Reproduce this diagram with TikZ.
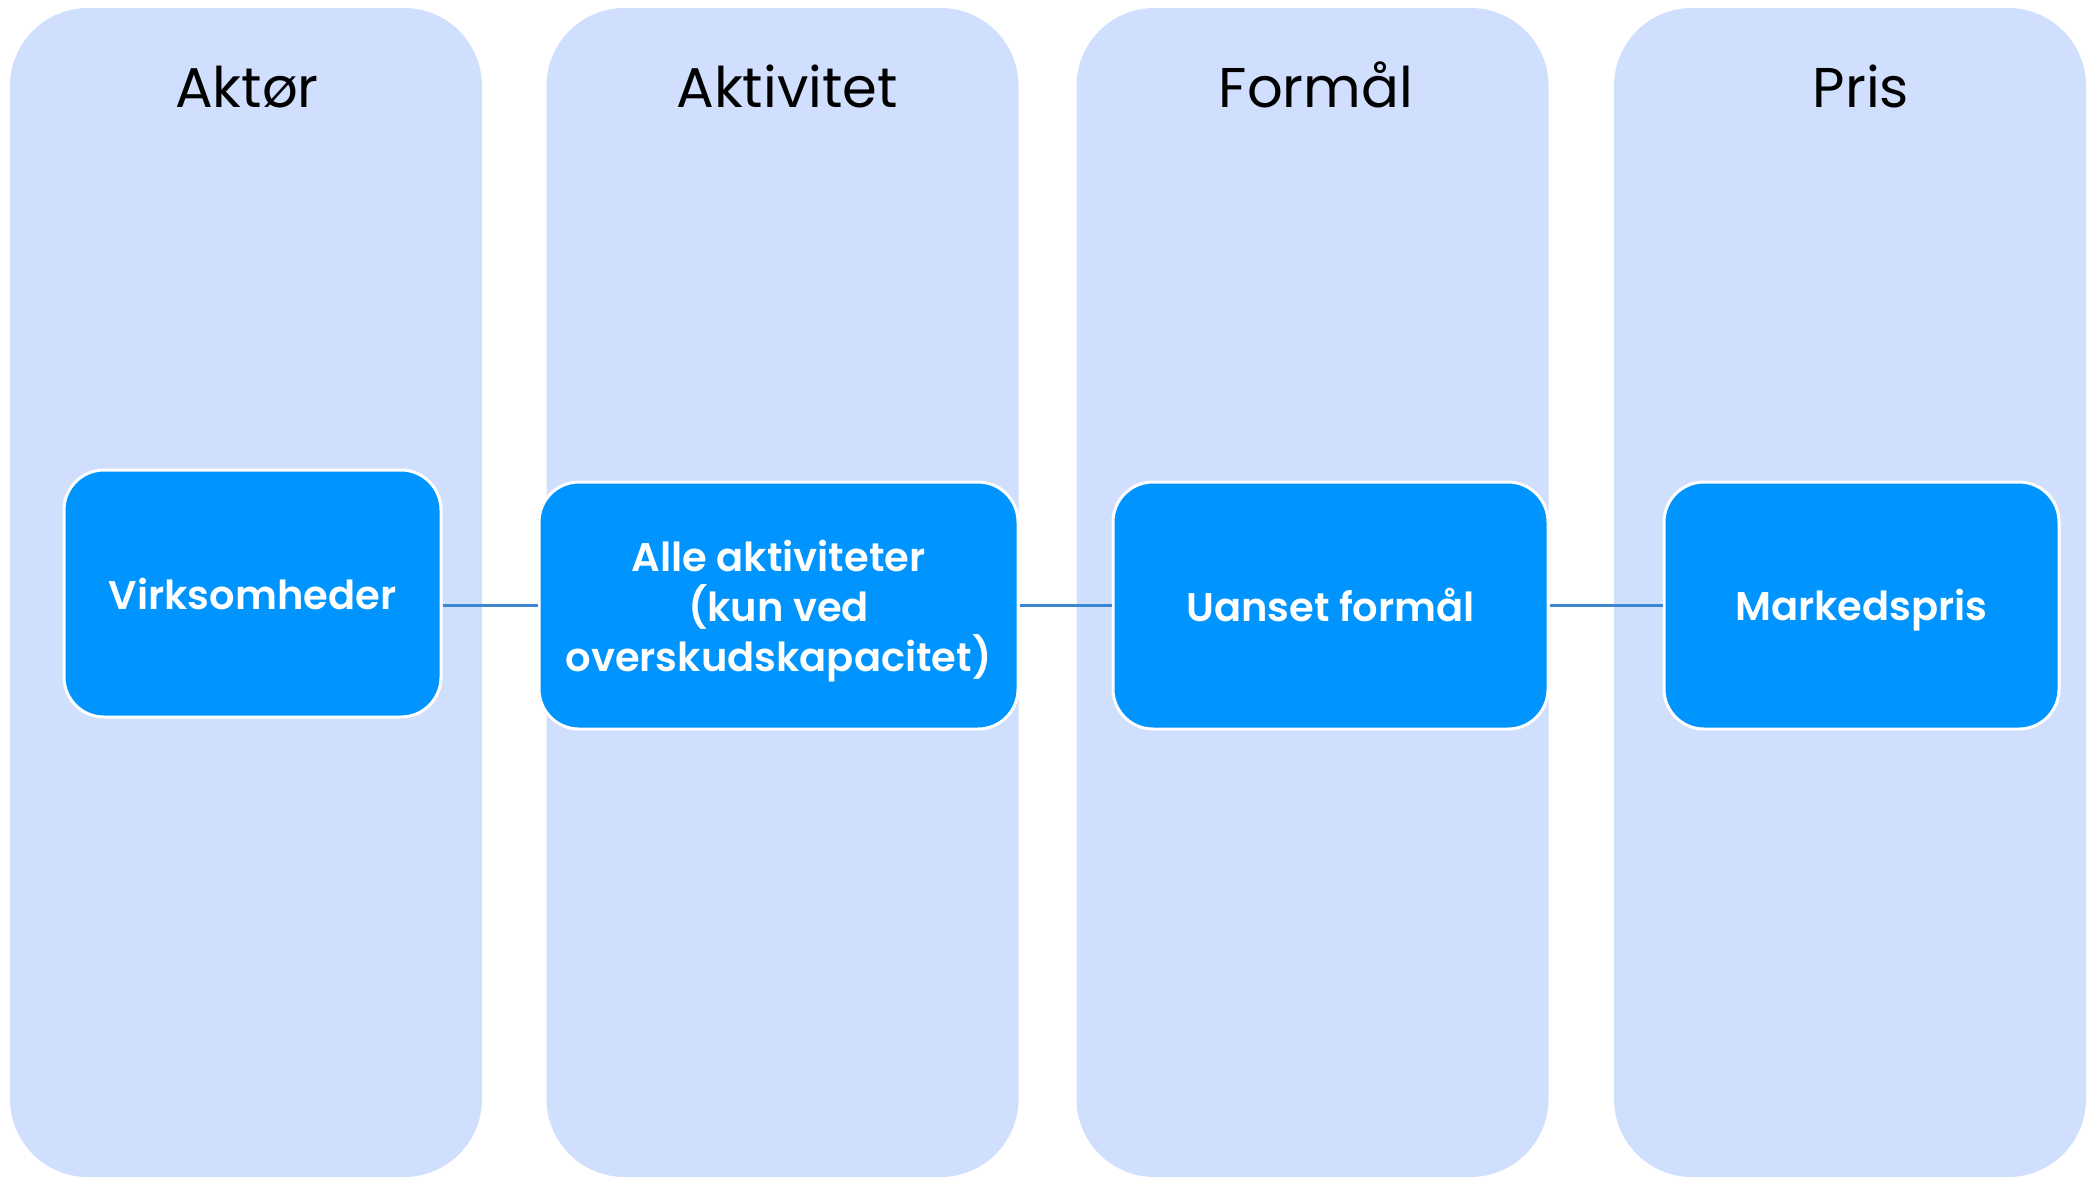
\documentclass[tikz,border=0pt]{standalone}
\usepackage{fontspec}
\setmainfont{Poppins}[BoldFont={Poppins SemiBold}]
\definecolor{colbg}{HTML}{D0DFFD}
\definecolor{cardblue}{HTML}{0094FE}
\definecolor{linkblue}{HTML}{3B88D0}
\tikzset{
  col/.style={fill=colbg, rounded corners=39pt, inner sep=0pt, minimum height=584.5pt, minimum width=236pt},
  card/.style={fill=cardblue, draw=white, line width=1.5pt, rounded corners=20pt, inner sep=0pt,
    text=white, align=center, minimum height=123.5pt, font=\fontsize{20pt}{25pt}\selectfont\bfseries},
  head/.style={anchor=base, font=\fontsize{28pt}{34pt}\selectfont, text=black},
  link/.style={draw=linkblue, line width=1.25pt}
}
\begin{document}
\begin{tikzpicture}[x=0.5pt,y=-0.5pt]
\useasboundingbox (0,0) rectangle (2087,1178);
\node[col] (c1) at (246,592.5) {};
\node[col] (c2) at (782.5,592.5) {};
\node[col] (c3) at (1312.5,592.5) {};
\node[col] (c4) at (1850,592.5) {};
\node[head] (h1) at (247,107) {Aktør};
\node[head] (h2) at (787,107) {Aktivitet};
\node[head] (h3) at (1316,107) {Formål};
\node[head] (h4) at (1861,107) {Pris};
\node[card, minimum width=188.5pt] (b1) at (252.5,593.5) {Virksomheder};
\node[card, minimum width=239.5pt, text depth=0pt] (b2) at (778.5,605.5) {Alle aktiviteter\\(kun ved\\overskudskapacitet)};
\node[card, minimum width=217.5pt] (b3) at (1330.5,605.5) {Uanset formål};
\node[card, minimum width=197.5pt, text height=15pt, text depth=0pt] (b4) at (1861.5,605.5) {Markedspris};
\draw[link] (b2.west -| b1.east) -- (b2.west);
\draw[link] (b2.east) -- (b3.west);
\draw[link] (b3.east) -- (b4.west);
\end{tikzpicture}
\end{document}
